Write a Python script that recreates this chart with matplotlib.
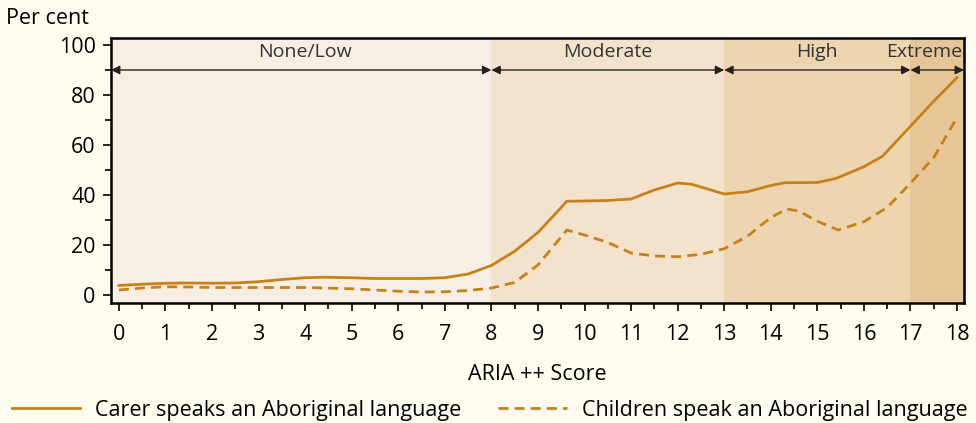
import matplotlib.pyplot as plt
import numpy as np

plt.rcParams['font.family'] = ['Open Sans', 'DejaVu Sans']

# ARIA++ score vs per cent
carer_x = [0, 0.5, 1, 1.5, 2, 2.5, 3, 3.5, 4, 4.4, 5, 5.5, 6, 6.5, 7, 7.5, 8, 8.5, 9, 9.4, 9.62,
           10, 10.5, 11, 11.5, 12, 12.3, 13, 13.5, 14, 14.3, 15, 15.4, 16, 16.4, 17, 17.5, 18]
carer_y = [3.8, 4.3, 4.7, 4.8, 4.7, 4.8, 5.3, 6.2, 6.9, 7.1, 6.9, 6.6, 6.6, 6.6, 6.9, 8.4, 11.8, 17.5, 25, 33, 37.5,
           37.6, 37.8, 38.4, 42, 44.8, 44.3, 40.4, 41.3, 43.8, 44.9, 45, 46.6, 51.3, 55.5, 67.5, 77.5, 87]

child_x = [0, 0.5, 1, 1.5, 2, 3, 4, 5, 5.5, 6, 6.5, 7, 7.5, 8, 8.5, 9, 9.62,
           10, 10.5, 11, 11.5, 12, 12.5, 13, 13.5, 14, 14.35, 14.6, 15, 15.45, 16, 16.5, 17, 17.5, 18]
child_y = [2, 2.8, 3.3, 3.2, 3.0, 3.0, 3.0, 2.5, 2.0, 1.5, 1.2, 1.3, 1.8, 2.8, 5, 12, 26,
           24, 21, 16.8, 15.6, 15.3, 16.3, 18.5, 23.5, 31, 34.4, 33.6, 29.5, 26, 29.3, 35, 44.7, 55, 71]

zones = ['None/Low', 'Moderate', 'High', 'Extreme']
zone_edges = [-0.17, 8, 13, 17, 18.15]
zone_colors = ['#f8efe4', '#f3e3cc', '#edd5b0', '#e6c697']
zone_label_x = [4, 10.5, 15, 17.3]

line_color = '#c8811a'
bg = '#fffdf0'

fig = plt.figure(figsize=(9.76, 4.23), dpi=100, facecolor=bg)
ax = fig.add_axes([0.1137, 0.2837, 0.874, 0.6265])
ax.set_facecolor(bg)

for i, name in enumerate(zones):
    ax.axvspan(zone_edges[i], zone_edges[i + 1], color=zone_colors[i], lw=0, zorder=0)
    ax.annotate('', xy=(zone_edges[i], 90), xytext=(zone_edges[i + 1], 90),
                arrowprops=dict(arrowstyle='<|-|>', color='#222222', lw=1.0,
                                mutation_scale=13, shrinkA=0, shrinkB=0), zorder=3)
    ax.text(zone_label_x[i], 97.3, name, ha='center', va='center', fontsize=14, color='#333333')

ax.plot(carer_x, carer_y, color=line_color, lw=2.0, label='Carer speaks an Aboriginal language', zorder=4)
ax.plot(child_x, child_y, color=line_color, lw=2.0, dashes=(3.6, 2.2),
        label='Children speak an Aboriginal language', zorder=4)

ax.set_xlim(-0.17, 18.15)
ax.set_ylim(-3.2, 102.8)
ax.set_xticks(range(0, 19))
ax.set_xticks(np.arange(0.5, 18, 1), minor=True)
ax.set_yticks(range(0, 101, 20))
ax.set_yticks(range(10, 100, 20), minor=True)
ax.tick_params(which='major', length=6, width=1.2, labelsize=15.5, direction='out', colors='black', pad=5)
ax.tick_params(axis='x', which='major', pad=9)
ax.tick_params(which='minor', length=4, width=1.2, direction='out')
for s in ax.spines.values():
    s.set_linewidth(1.8)

ax.set_xlabel('ARIA ++ Score', fontsize=15.5, labelpad=14)
fig.text(0.006, 0.957, 'Per cent', fontsize=15.5, ha='left', va='center')

fig.legend(loc='center left', bbox_to_anchor=(0.003, 0.03), ncol=2, frameon=False,
           fontsize=15.5, handlelength=3.2, columnspacing=1.7, handletextpad=0.7, borderaxespad=0)

fig.savefig('out.png', dpi=100, facecolor=bg)
